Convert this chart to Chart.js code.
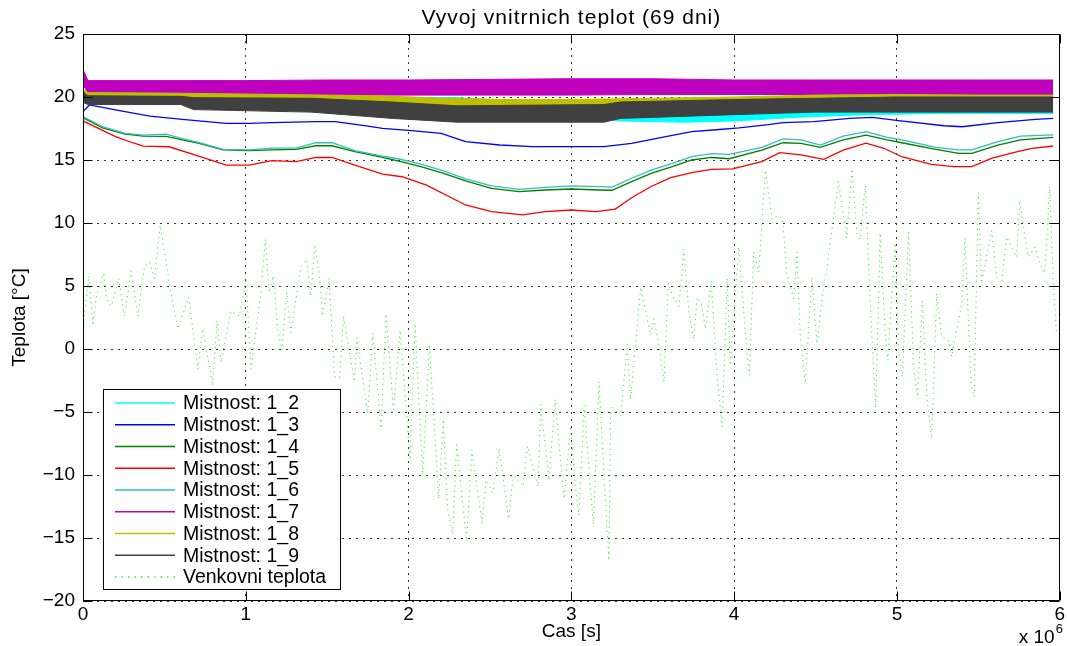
<!DOCTYPE html>
<html><head><meta charset="utf-8">
<script src="https://cdn.jsdelivr.net/npm/chart.js@4.4.1/dist/chart.umd.min.js"></script>
<style>html,body{margin:0;padding:0;background:#fff;}#wrap{width:1067px;height:646px;position:relative;}</style>
</head><body><div id="wrap"><canvas id="c"></canvas></div>
<script>
// ---- texts ----
const chartTitle = 'Vyvoj vnitrnich teplot (69 dni)';
const xAxisLabel = 'Cas [s]';
const yAxisLabel = 'Teplota [°C]';
const xExponentLabel = 'x 10';
const xExponent = '6';
const xTickValues = [0, 1, 2, 3, 4, 5, 6];           // units of 10^6 s
const yTickValues = [-20, -15, -10, -5, 0, 5, 10, 15, 20, 25];
const seriesNames = ['Mistnost: 1_2','Mistnost: 1_3','Mistnost: 1_4','Mistnost: 1_5','Mistnost: 1_6','Mistnost: 1_7','Mistnost: 1_8','Mistnost: 1_9','Venkovni teplota'];

// ---- room 1_2 (oscillating band: upper / lower envelope) ----
const room12Time = [0, 0.6, 1.0, 1.9, 2.3, 2.5, 2.9, 3.3, 3.7, 4.0, 4.4, 4.8, 5.3, 5.96];
const room12High = [19.9, 19.9, 19.8, 20.0, 19.95, 19.8, 19.4, 19.0, 18.9, 19.0, 19.1, 19.2, 19.3, 19.3];
const room12Low  = [19.5, 19.5, 19.3, 19.3, 19.3, 19.1, 18.6, 18.1, 18.0, 18.1, 18.4, 18.6, 18.7, 18.7];

// ---- room 1_3 ----
const room13Time = [0, 0.04, 0.2, 0.41, 0.61, 0.88, 1.02, 1.16, 1.43, 1.55, 1.74, 1.84, 2.02, 2.2, 2.35, 2.56, 2.76, 3.0, 3.2, 3.37, 3.58, 3.74, 3.89, 4.03, 4.21, 4.30, 4.49, 4.71, 4.85, 5.01, 5.29, 5.40, 5.62, 5.85, 5.96];
const room13Temp = [18.85, 19.37, 18.97, 18.49, 18.23, 17.91, 17.91, 17.96, 18.04, 18.04, 17.7, 17.51, 17.33, 17.12, 16.45, 16.19, 16.06, 16.06, 16.06, 16.32, 16.85, 17.25, 17.4, 17.55, 17.8, 17.96, 18.04, 18.31, 18.39, 18.12, 17.72, 17.64, 17.96, 18.23, 18.31];

// ---- rooms 1_4 and 1_6 (shared sampling times) ----
const room46Time = [0, 0.12, 0.26, 0.37, 0.51, 0.61, 0.72, 0.86, 1.02, 1.16, 1.31, 1.43, 1.53, 1.67, 1.84, 1.94, 2.07, 2.21, 2.35, 2.51, 2.68, 2.84, 3.0, 3.17, 3.25, 3.37, 3.49, 3.62, 3.74, 3.86, 3.97, 4.17, 4.30, 4.41, 4.53, 4.67, 4.81, 4.94, 5.03, 5.24, 5.38, 5.46, 5.62, 5.76, 5.96];
const room14Temp = [18.35, 17.55, 17.05, 16.9, 16.87, 16.6, 16.3, 15.8, 15.74, 15.8, 15.85, 16.13, 16.13, 15.66, 15.21, 14.92, 14.5, 13.95, 13.35, 12.75, 12.49, 12.62, 12.7, 12.62, 12.6, 13.28, 13.94, 14.47, 15.0, 15.2, 15.1, 15.79, 16.37, 16.32, 16.0, 16.59, 16.98, 16.59, 16.37, 15.85, 15.53, 15.53, 16.19, 16.59, 16.8];
const room16Temp = [18.45, 17.64, 17.12, 16.98, 17.05, 16.7, 16.35, 15.85, 15.8, 15.95, 15.95, 16.37, 16.37, 15.75, 15.3, 15.08, 14.7, 14.15, 13.5, 12.94, 12.67, 12.83, 12.94, 12.88, 12.85, 13.55, 14.2, 14.74, 15.26, 15.5, 15.45, 16.0, 16.67, 16.6, 16.19, 16.9, 17.25, 16.8, 16.6, 16.0, 15.8, 15.8, 16.45, 16.9, 17.0];

// ---- room 1_5 ----
const room15Time = [0, 0.2, 0.31, 0.37, 0.53, 0.72, 0.88, 1.02, 1.16, 1.31, 1.43, 1.53, 1.67, 1.84, 1.96, 2.11, 2.35, 2.51, 2.70, 2.84, 3.0, 3.15, 3.27, 3.37, 3.49, 3.61, 3.74, 3.86, 3.99, 4.17, 4.28, 4.41, 4.55, 4.67, 4.81, 4.92, 5.03, 5.21, 5.35, 5.46, 5.58, 5.74, 5.83, 5.96];
const room15Temp = [18.1, 16.85, 16.35, 16.1, 16.05, 15.26, 14.6, 14.6, 14.95, 14.87, 15.2, 15.2, 14.6, 13.87, 13.67, 13.0, 11.43, 10.9, 10.65, 10.9, 11.03, 10.9, 11.1, 12.0, 12.9, 13.6, 14.0, 14.26, 14.3, 14.87, 15.58, 15.4, 15.05, 15.79, 16.33, 15.93, 15.26, 14.66, 14.47, 14.47, 15.13, 15.66, 15.93, 16.11];

// ---- room 1_7 (band) ----
const room17Time = [0, 0.03, 0.5, 1.0, 1.5, 2.0, 2.5, 3.0, 3.5, 4.0, 4.5, 5.0, 5.5, 5.96];
const room17High = [22.2, 21.3, 21.3, 21.3, 21.35, 21.35, 21.4, 21.45, 21.45, 21.35, 21.35, 21.35, 21.35, 21.35];
const room17Low  = [21.0, 20.3, 20.2, 20.2, 20.15, 20.15, 20.15, 20.15, 20.2, 20.2, 20.2, 20.2, 20.2, 20.2];

// ---- room 1_8 (band) ----
const room18Time = [0, 0.03, 0.6, 1.2, 1.8, 2.2, 2.6, 3.0, 3.5, 4.0, 4.5, 5.0, 5.5, 5.96];
const room18High = [20.6, 20.35, 20.3, 20.2, 20.1, 19.9, 19.8, 19.8, 19.9, 20.0, 20.15, 20.2, 20.15, 20.15];
const room18Low  = [19.8, 19.6, 19.5, 19.4, 19.2, 19.0, 18.9, 19.0, 19.2, 19.4, 19.5, 19.6, 19.5, 19.5];

// ---- room 1_9 (band) ----
const room19Time = [0, 0.03, 0.6, 0.68, 1.4, 1.9, 2.3, 3.2, 3.3, 4.0, 4.5, 5.0, 5.96];
const room19High = [20.4, 20.1, 20.05, 19.95, 19.9, 19.6, 19.3, 19.4, 19.6, 19.8, 19.9, 20.0, 20.0];
const room19Low  = [19.6, 19.4, 19.4, 19.0, 18.8, 18.3, 18.0, 18.0, 18.3, 18.6, 18.8, 18.8, 18.8];

// ---- outdoor temperature ----
const outdoorTime = [0, 0.01, 0.037, 0.061, 0.082, 0.127, 0.143, 0.174, 0.219, 0.255, 0.296, 0.337, 0.378, 0.409, 0.439, 0.474, 0.501, 0.535, 0.582, 0.650, 0.705, 0.736, 0.797, 0.824, 0.848, 0.909, 0.961, 1.001, 1.032, 1.093, 1.120, 1.144, 1.169, 1.196, 1.222, 1.251, 1.277, 1.339, 1.373, 1.400, 1.424, 1.455, 1.471, 1.512, 1.545, 1.576, 1.600, 1.668, 1.682, 1.749, 1.780, 1.831, 1.862, 1.907, 1.948, 2.009, 2.040, 2.087, 2.128, 2.185, 2.213, 2.240, 2.271, 2.295, 2.356, 2.389, 2.451, 2.475, 2.516, 2.557, 2.614, 2.643, 2.704, 2.730, 2.796, 2.812, 2.863, 2.900, 2.955, 2.996, 3.023, 3.047, 3.078, 3.135, 3.170, 3.215, 3.231, 3.242, 3.303, 3.344, 3.364, 3.426, 3.487, 3.507, 3.538, 3.569, 3.595, 3.630, 3.661, 3.691, 3.722, 3.752, 3.773, 3.799, 3.824, 3.859, 3.895, 3.926, 3.957, 3.977, 4.028, 4.079, 4.094, 4.120, 4.151, 4.192, 4.233, 4.273, 4.298, 4.325, 4.365, 4.386, 4.406, 4.437, 4.478, 4.509, 4.549, 4.570, 4.600, 4.641, 4.692, 4.723, 4.754, 4.774, 4.805, 4.846, 4.870, 4.897, 4.928, 4.944, 4.989, 5.010, 5.034, 5.071, 5.102, 5.126, 5.157, 5.183, 5.214, 5.244, 5.275, 5.316, 5.336, 5.398, 5.418, 5.455, 5.474, 5.500, 5.520, 5.582, 5.612, 5.643, 5.674, 5.735, 5.755, 5.786, 5.806, 5.847, 5.878, 5.908, 5.938, 5.959, 5.979];
const outdoorTemp = [0.5, 2.9, 5.8, 1.85, 4.2, 6.0, 4.0, 3.4, 5.6, 2.6, 6.2, 2.6, 6.6, 6.9, 5.6, 9.8, 7.7, 4.8, 1.6, 4.1, -1.6, 1.6, -2.9, 2.25, -1.06, 3.0, 2.6, 5.6, -1.6, 4.5, 8.7, 4.5, 5.8, 1.6, -0.1, 4.5, 1.3, 6.6, 7.1, 4.2, 8.3, 5.6, 2.6, 5.6, -2.2, -2.3, 2.6, -2.6, 0.9, -5.1, 1.25, -6.3, 2.8, -4.8, 1.5, -8.8, 2.0, -10.0, 0.3, -11.9, -5.6, -12.7, -14.7, -7.6, -15.2, -8.0, -13.8, -10.4, -11.4, -7.9, -13.5, -10.1, -10.9, -7.7, -10.9, -4.4, -10.4, -4.0, -11.9, -6.1, -10.8, -13.2, -4.5, -13.9, -2.6, -13.4, -16.8, -4.5, -5.3, 0.4, -4.0, 4.9, 1.1, 2.4, 0.3, -2.6, 5.2, 4.0, 3.4, 7.9, 2.9, 0.8, 4.1, 3.6, 1.6, 5.4, -2.1, -6.2, 5.6, -1.3, 8.1, -0.3, -2.1, 7.7, 6.1, 14.2, 10.3, 10.6, 10.3, 5.8, 4.0, 7.7, 1.1, -2.7, 5.7, 0.4, 4.9, 6.3, 9.4, 13.3, 8.8, 14.3, 9.2, 8.7, 13.0, 1.0, -4.7, 9.2, 1.2, -0.9, 8.4, -0.1, -2.2, 9.4, -1.4, -3.8, 3.8, -3.8, -7.1, 4.4, 1.0, 0.7, -0.6, 3.6, 8.8, -2.7, -3.8, 12.4, 5.2, 9.4, 5.7, 5.2, 8.9, 7.3, 11.8, 8.9, 7.3, 8.1, 6.8, 6.0, 12.9, 5.7, 1.4];

// ---- styles ----
const FONT = "'Liberation Sans', Arial, Helvetica, sans-serif";
const colors = {
  r12: '#00ffff', r13: '#0000ff', r14: '#008000', r15: '#ff0000', r16: '#33bdbd',
  r17: '#bf00bf', r18: '#bfbf00', r19: '#404040', out: 'rgba(0,235,0,0.8)'
};

function pts(xs, ys) { return xs.map((x, i) => ({ x: x, y: ys[i] })); }
function lineDs(xs, ys, color, order, extra) {
  return Object.assign({ data: pts(xs, ys), borderColor: color, backgroundColor: color, borderWidth: 1.3,
    pointRadius: 0, fill: false, tension: 0, order: order }, extra || {});
}

const datasets = [
  lineDs(room12Time, room12Low, colors.r12, 90, { borderWidth: 1 }),                     // 0
  lineDs(room12Time, room12High, colors.r12, 90, { borderWidth: 1, fill: { target: 0 } }), // 1
  lineDs(room13Time, room13Temp, colors.r13, 80),                                        // 2
  lineDs(room46Time, room14Temp, colors.r14, 70),                                        // 3
  lineDs(room15Time, room15Temp, colors.r15, 60),                                        // 4
  lineDs(room46Time, room16Temp, colors.r16, 50),                                        // 5
  lineDs(room17Time, room17Low, colors.r17, 40, { borderWidth: 1 }),                     // 6
  lineDs(room17Time, room17High, colors.r17, 40, { borderWidth: 1, fill: { target: 6 } }), // 7
  lineDs(room18Time, room18Low, colors.r18, 30, { borderWidth: 1 }),                     // 8
  lineDs(room18Time, room18High, colors.r18, 30, { borderWidth: 1, fill: { target: 8 } }), // 9
  lineDs(room19Time, room19Low, colors.r19, 20, { borderWidth: 1 }),                     // 10
  lineDs(room19Time, room19High, colors.r19, 20, { borderWidth: 1, fill: { target: 10 } }), // 11
  lineDs(outdoorTime, outdoorTemp, colors.out, 10, { borderWidth: 1, borderDash: [1.2, 4] }) // 12
];

const legendItems = [
  { name: seriesNames[0], color: colors.r12 },
  { name: seriesNames[1], color: colors.r13 },
  { name: seriesNames[2], color: colors.r14 },
  { name: seriesNames[3], color: colors.r15 },
  { name: seriesNames[4], color: colors.r16 },
  { name: seriesNames[5], color: colors.r17 },
  { name: seriesNames[6], color: colors.r18 },
  { name: seriesNames[7], color: colors.r19 },
  { name: seriesNames[8], color: colors.out, dash: [1.5, 5] }
];

const framePlugin = {
  id: 'frame',
  afterDraw(chart) {
    const ctx = chart.ctx, ca = chart.chartArea;
    const xs = chart.scales.x, ys = chart.scales.y;
    ctx.save();
    // title centred over the plot area
    ctx.fillStyle = '#000';
    ctx.font = '21px ' + FONT;
    if ('letterSpacing' in ctx) ctx.letterSpacing = '1px';
    ctx.textAlign = 'center';
    ctx.textBaseline = 'middle';
    ctx.fillText(chartTitle, (ca.left + ca.right) / 2, 18);
    if ('letterSpacing' in ctx) ctx.letterSpacing = '0px';

    ctx.strokeStyle = '#000'; ctx.lineWidth = 1; ctx.setLineDash([]);
    ctx.beginPath();
    const L = Math.round(ca.left) + 0.5, R = Math.round(ca.right) - 0.5, T = Math.round(ca.top) + 0.5, B = Math.round(ca.bottom) - 0.5;
    ctx.rect(L, T, R - L, B - T);
    // inward tick marks
    yTickValues.forEach(v => {
      const p = Math.round(ys.getPixelForValue(v)) + 0.5;
      ctx.moveTo(L, p); ctx.lineTo(L + 9, p);
      ctx.moveTo(R, p); ctx.lineTo(R - 9, p);
    });
    xTickValues.forEach(v => {
      const p = Math.round(xs.getPixelForValue(v)) + 0.5;
      ctx.moveTo(p, B); ctx.lineTo(p, B - 9);
      ctx.moveTo(p, T); ctx.lineTo(p, T + 9);
    });
    ctx.stroke();

    // legend box
    const bx = ca.left + 20, bw = 237, bh = 200, by = ca.bottom - 12 - bh;
    ctx.fillStyle = '#fff';
    ctx.fillRect(bx, by, bw, bh);
    ctx.strokeRect(Math.round(bx) + 0.5, Math.round(by) + 0.5, bw, bh);
    ctx.font = '19.5px ' + FONT;
    ctx.textBaseline = 'middle';
    ctx.textAlign = 'left';
    legendItems.forEach((it, i) => {
      const yy = by + 14 + i * 21.75;
      ctx.beginPath();
      ctx.strokeStyle = it.color;
      ctx.lineWidth = 1.3;
      ctx.setLineDash(it.dash || []);
      ctx.moveTo(bx + 12, yy); ctx.lineTo(bx + 72, yy);
      ctx.stroke();
      ctx.fillStyle = '#000';
      ctx.fillText(it.name, bx + 80, yy + 1);
    });
    ctx.setLineDash([]);

    // exponent label
    ctx.fillStyle = '#000';
    ctx.font = '19px ' + FONT;
    ctx.textBaseline = 'alphabetic';
    ctx.fillText(xExponentLabel, ca.right - 41, 643);
    ctx.font = '13px ' + FONT;
    ctx.fillText(xExponent, ca.right - 4, 633);
    ctx.restore();
  }
};

new Chart(document.getElementById('c'), {
  type: 'line',
  data: { datasets: datasets },
  plugins: [framePlugin],
  options: {
    responsive: true, maintainAspectRatio: false, animation: false,
    layout: { padding: { top: 34, left: 0, right: 5, bottom: 0 } },
    plugins: {
      legend: { display: false },
      tooltip: { enabled: false },
      filler: { drawTime: 'beforeDatasetDraw' },
      title: { display: false }
    },
    scales: {
      x: {
        type: 'linear', min: 0, max: 6,
        afterFit(s) { s.height = 45; },
        afterBuildTicks(s) { s.ticks = xTickValues.map(v => ({ value: v })); },
        ticks: { color: '#000', font: { family: FONT, size: 19 }, padding: 2, maxRotation: 0,
          callback: v => String(v) },
        grid: { color: '#333', lineWidth: 1, drawTicks: false },
        border: { display: false, dash: [2, 5] },
        title: { display: true, text: xAxisLabel, color: '#000', font: { family: FONT, size: 19 }, padding: { top: 0, bottom: 2.6 } }
      },
      y: {
        type: 'linear', min: -20, max: 25,
        afterFit(s) { s.width = 83; },
        afterBuildTicks(s) { s.ticks = yTickValues.map(v => ({ value: v })); },
        ticks: { color: '#000', font: { family: FONT, size: 19 }, padding: 8,
          callback: v => String(v).replace('-', '\u2212') },
        grid: { color: '#333', lineWidth: 1, drawTicks: false },
        border: { display: false, dash: [2, 5] },
        title: { display: true, text: yAxisLabel, color: '#000', font: { family: FONT, size: 19 }, padding: { top: 8.6, bottom: 0 } }
      }
    }
  }
});
</script></body></html>
